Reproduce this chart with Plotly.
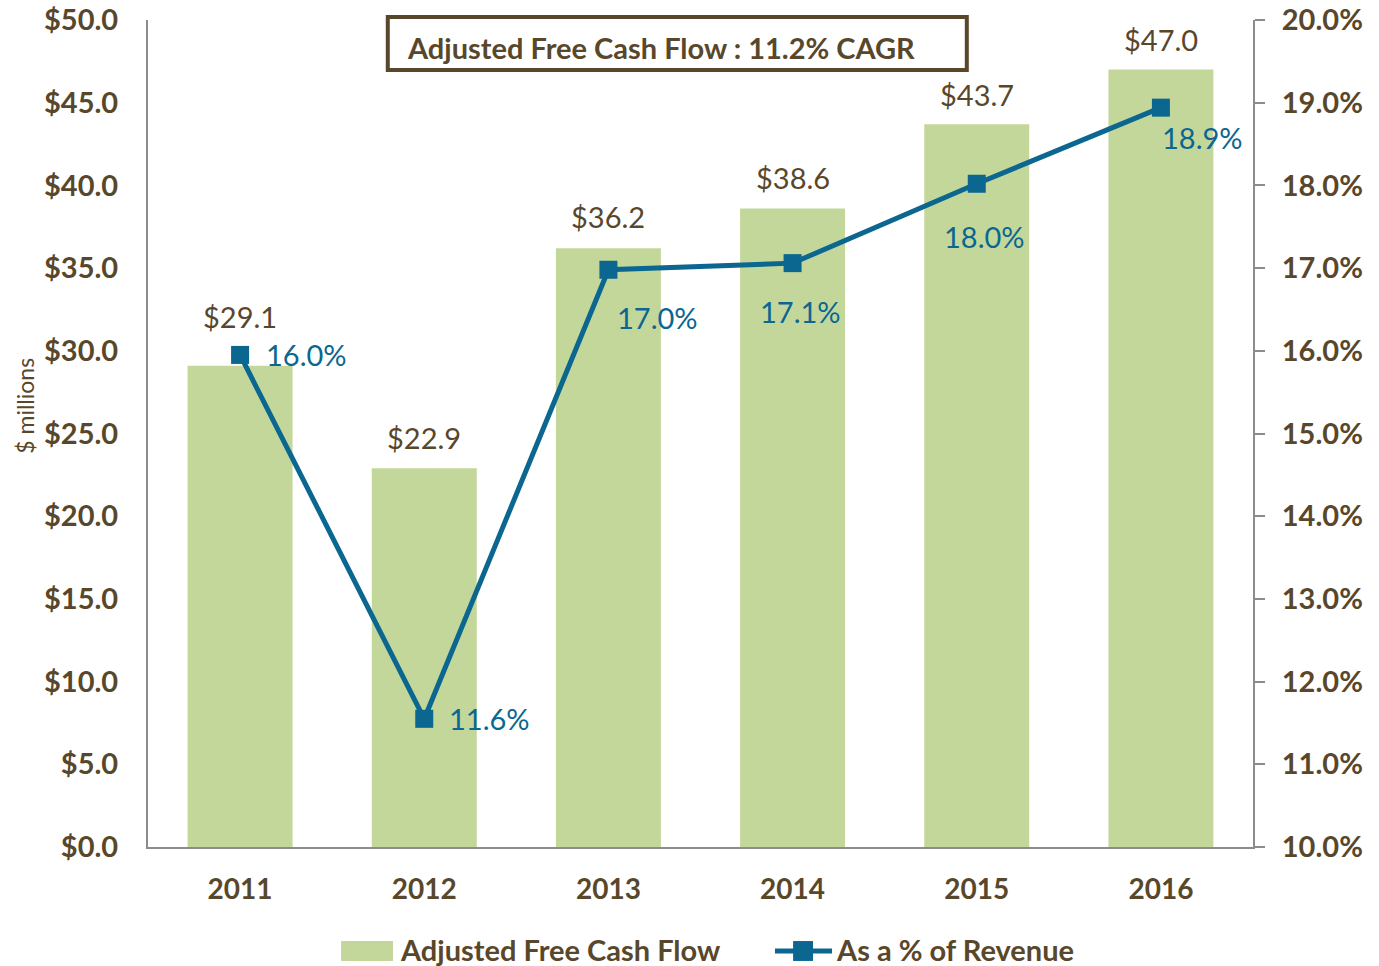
import plotly.graph_objects as go

years = ["2011", "2012", "2013", "2014", "2015", "2016"]
fcf = [29.1, 22.9, 36.2, 38.6, 43.7, 47.0]
pct_revenue = [15.95, 11.55, 16.98, 17.06, 18.02, 18.94]
fcf_labels = ["$29.1", "$22.9", "$36.2", "$38.6", "$43.7", "$47.0"]
pct_labels = ["16.0%", "11.6%", "17.0%", "17.1%", "18.0%", "18.9%"]
left_ticks = [0, 5, 10, 15, 20, 25, 30, 35, 40, 45, 50]
right_ticks = [10, 11, 12, 13, 14, 15, 16, 17, 18, 19, 20]

BROWN = "#59472b"
GREEN = "#c4d79b"
BLUE = "#0b6690"
GREY = "#8c8c8c"
FONT = "Lato"
FS = 29

# label offsets in pixels (like Excel's manual placement)
bar_lbl_shift = [49, 31, 32, 31, 30, 30]
pct_lbl_dx = [66, 65, 49, 8, 8, 42]
pct_lbl_dy = [0, 0, -48, -48, -53, -30]

fig = go.Figure()
fig.add_trace(go.Bar(
    x=years, y=fcf, name="Adjusted Free Cash Flow",
    marker=dict(color=GREEN, line=dict(width=0)),
    width=0.57, showlegend=False, hoverinfo="skip",
))
fig.add_trace(go.Scatter(
    x=years, y=pct_revenue, name="As a % of Revenue", yaxis="y2",
    mode="lines+markers",
    line=dict(color=BLUE, width=5),
    marker=dict(symbol="square", size=18, color=BLUE),
    cliponaxis=False, showlegend=False, hoverinfo="skip",
))

# category axis: annotations use the category index, "2011" would be read as index 2011
ann = []
for i, (v, t, s) in enumerate(zip(fcf, fcf_labels, bar_lbl_shift)):
    ann.append(dict(x=i, y=v, xref="x", yref="y", text=t, showarrow=False,
                    yanchor="middle", yshift=s,
                    font=dict(size=FS, color=BROWN, family=FONT)))
for i, (v, t, dx, dy) in enumerate(zip(pct_revenue, pct_labels, pct_lbl_dx, pct_lbl_dy)):
    ann.append(dict(x=i, y=v, xref="x", yref="y2", text=t, showarrow=False,
                    yanchor="middle", xshift=dx, yshift=dy,
                    font=dict(size=FS, color=BLUE, family=FONT)))

# title box text
ann.append(dict(xref="paper", yref="paper", x=0.2325, y=0.967, xanchor="left", yanchor="middle",
                text="Adjusted Free Cash Flow : 11.2% CAGR", showarrow=False,
                font=dict(size=FS, color=BROWN, family=FONT, weight="bold")))
# y axis title
ann.append(dict(xref="paper", yref="paper", x=-0.111, y=0.534, textangle=-90,
                xanchor="center", yanchor="middle",
                text="$ millions", showarrow=False,
                font=dict(size=23, color=BROWN, family=FONT)))
# legend texts
ann.append(dict(xref="paper", yref="paper", x=0.2262, y=-0.1235, xanchor="left", yanchor="middle",
                text="Adjusted Free Cash Flow", showarrow=False,
                font=dict(size=FS, color=BROWN, family=FONT, weight="bold")))
ann.append(dict(xref="paper", yref="paper", x=0.6208, y=-0.1235, xanchor="left", yanchor="middle",
                text="As a % of Revenue", showarrow=False,
                font=dict(size=FS, color=BROWN, family=FONT, weight="bold")))

shapes = [
    dict(type="rect", xref="paper", yref="paper", x0=0.217, x1=0.741, y0=0.9396, y1=1.0036,
         line=dict(color=BROWN, width=4), fillcolor="white", layer="below"),
    dict(type="rect", xref="paper", yref="paper", x0=0.1747, x1=0.2217, y0=-0.1378, y1=-0.1137,
         line=dict(width=0), fillcolor=GREEN),
    dict(type="line", xref="paper", yref="paper", x0=0.5674, x1=0.6190, y0=-0.1258, y1=-0.1258,
         line=dict(color=BLUE, width=5)),
    dict(type="rect", xref="paper", yref="paper", x0=0.5838, x1=0.6018, y0=-0.1378, y1=-0.1137,
         line=dict(width=0), fillcolor=BLUE),
]

fig.update_layout(
    width=1379, height=966,
    paper_bgcolor="white", plot_bgcolor="white",
    margin=dict(l=148, r=126, t=20, b=119),
    font=dict(family=FONT, color=BROWN),
    bargap=0.43,
    showlegend=False,
    xaxis=dict(
        type="category", automargin=False, range=[-0.5, 5.5],
        showline=True, linecolor=GREY, linewidth=2,
        tickfont=dict(size=28, color=BROWN, family=FONT, weight="bold"),
        ticks="", ticklabelstandoff=16,
    ),
    yaxis=dict(
        automargin=False,
        range=[0, 50], tickvals=left_ticks,
        ticktext=["$%.1f" % v for v in left_ticks],
        showgrid=False, zeroline=False,
        showline=True, linecolor=GREY, linewidth=2,
        tickfont=dict(size=FS, color=BROWN, family=FONT, weight="bold"),
        ticks="", ticklabelstandoff=22, ticklabeloverflow="allow",
    ),
    yaxis2=dict(
        automargin=False,
        range=[10, 20], tickvals=right_ticks,
        ticktext=["%.1f%%" % v for v in right_ticks],
        overlaying="y", side="right",
        showgrid=False, zeroline=False,
        showline=True, linecolor=GREY, linewidth=2,
        ticks="outside", ticklen=10, tickcolor=GREY, tickwidth=2,
        tickfont=dict(size=FS, color=BROWN, family=FONT, weight="bold"),
        ticklabelstandoff=11, ticklabeloverflow="allow",
    ),
    annotations=ann,
    shapes=shapes,
)

# drop the default 8px body margin so the figure fills the window
fig.write_html("out.html", config={"displayModeBar": False},
               post_script="document.body.style.margin='0';")
